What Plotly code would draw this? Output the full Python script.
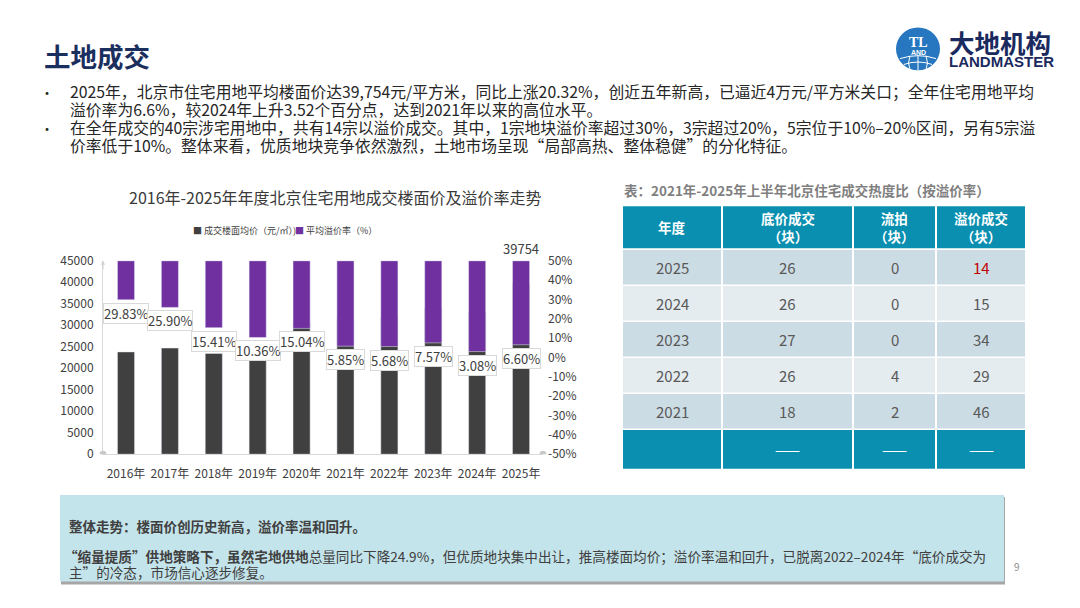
import plotly.graph_objects as go

W, H = 1080, 608
FONT = "Noto Sans CJK SC"

# ---------------- data ----------------
years = ["2016年", "2017年", "2018年", "2019年", "2020年",
         "2021年", "2022年", "2023年", "2024年", "2025年"]
price = [23800, 24700, 23450, 21950, 30500, 31500, 31800, 34000, 33040, 39754]
rate = [0.2983, 0.2590, 0.1541, 0.1036, 0.1504, 0.0585, 0.0568, 0.0757, 0.0308, 0.0660]

price_ticks = [0, 5000, 10000, 15000, 20000, 25000, 30000, 35000, 40000, 45000]
rate_ticks = [-0.5, -0.4, -0.3, -0.2, -0.1, 0, 0.1, 0.2, 0.3, 0.4, 0.5]
rate_tick_labels = ["-50%", "-40%", "-30%", "-20%", "-10%", "0%",
                    "10%", "20%", "30%", "40%", "50%"]

tbl_header = ["年度", "底价成交<br>（块）", "流拍<br>（块）", "溢价成交<br>（块）"]
tbl_year = ["2025", "2024", "2023", "2022", "2021"]
tbl_floor = [26, 26, 27, 26, 18]
tbl_fail = [0, 0, 0, 4, 2]
tbl_premium = [14, 15, 34, 29, 46]
tbl_footer = ["", "——", "——", "——"]

chart_title = "2016年-2025年年度北京住宅用地成交楼面价及溢价率走势"
legend_names = ["成交楼面均价（元/㎡）)", "平均溢价率（%）"]
table_title = "表：2021年-2025年上半年北京住宅成交热度比（按溢价率）"

# ---------------- helpers ----------------
def px(x):
    return x / W


def py(y):
    return 1 - y / H


GRAY = "#404040"
PURPLE = "#7030A0"
TEAL = "#0A8FB0"

fig = go.Figure()

fig.add_trace(go.Bar(x=years, y=price, marker_color=GRAY, width=0.39,
                     yaxis="y", name=legend_names[0], showlegend=False,
                     hoverinfo="skip"))
fig.add_trace(go.Bar(x=years, y=[r - 0.5 for r in rate], base=0.5,
                     marker_color=PURPLE, width=0.39, yaxis="y2",
                     name=legend_names[1], showlegend=False, hoverinfo="skip"))

ann = []
shapes = []


def text_ann(x, y, text, size, color, anchor="left", family=FONT, **kw):
    d = dict(x=px(x), y=py(y), xref="paper", yref="paper", xanchor=anchor,
             yanchor="middle", showarrow=False, text=text,
             font=dict(family=family, size=size, color=color))
    d.update(kw)
    ann.append(d)


def rect(x0, y0, x1, y1, color, layer="below"):
    shapes.append(dict(type="rect", xref="paper", yref="paper", x0=px(x0), x1=px(x1),
                       y0=py(y1), y1=py(y0), fillcolor=color, line=dict(width=0),
                       layer=layer))


# ---------------- table (built from the arrays) ----------------
col_edges = [622, 722, 853, 936, 1026]
tbl_top, head_h, gap, row_h, foot_h = 202, 43, 2, 35.5, 40
row_dark, row_light = "#CCDCE4", "#E4ECEF"
cell_col = "#595959"

for j, h in enumerate(tbl_header):
    x0, x1 = col_edges[j] + 1, col_edges[j + 1] - 1
    rect(x0, tbl_top, x1, tbl_top + head_h, TEAL)
    text_ann((x0 + x1) / 2, tbl_top + head_h / 2, f"<b>{h}</b>", 13.5, "white", "center")
body = list(zip(tbl_year, tbl_floor, tbl_fail, tbl_premium))
y_cur = tbl_top + head_h + gap
for i, row in enumerate(body):
    fill = row_dark if i % 2 == 0 else row_light
    for j, v in enumerate(row):
        x0, x1 = col_edges[j] + 1, col_edges[j + 1] - 1
        rect(x0, y_cur, x1, y_cur + row_h, fill)
        color = "#C00000" if (i == 0 and j == 3) else cell_col
        text_ann((x0 + x1) / 2, y_cur + row_h / 2 + 0.5, str(v), 15, color, "center")
    y_cur += row_h + 1.5
for j, v in enumerate(tbl_footer):
    x0, x1 = col_edges[j] + 1, col_edges[j + 1] - 1
    rect(x0, y_cur, x1, y_cur + foot_h, TEAL)
    text_ann((x0 + x1) / 2, y_cur + foot_h / 2, v, 15, "white", "center")

# ---------------- texts ----------------
text_ann(42, 47, "<b>土地成交</b>", 26.5, "#1B2F5E")
text_ann(947, 32, "<b>大地机构</b>", 25.5, "#1B2A5E")
text_ann(947, 53, "<b>LANDMASTER</b>", 15, "#1B2A5E", family="Liberation Sans")
text_ann(918, 33, "<b>TL</b>", 14, "white", "center", family="Liberation Serif")
text_ann(918, 44, "<b>AND</b>", 7, "white", "center", family="Liberation Sans")

bullet_lines = [
    (84, "2025年，北京市住宅用地平均楼面价达39,754元/平方米，同比上涨20.32%，创近五年新高，已逼近4万元/平方米关口；全年住宅用地平均", True),
    (102, "溢价率为6.6%，较2024年上升3.52个百分点，达到2021年以来的高位水平。", False),
    (121, "在全年成交的40宗涉宅用地中，共有14宗以溢价成交。其中，1宗地块溢价率超过30%，3宗超过20%，5宗位于10%–20%区间，另有5宗溢", True),
    (139, "价率低于10%。整体来看，优质地块竞争依然激烈，土地市场呈现“局部高热、整体稳健”的分化特征。", False),
]
for yy, txt, bul in bullet_lines:
    text_ann(68, yy, txt, 15.8, "#262626")
    if bul:
        text_ann(47, yy, "•", 14, "#262626", "center")

text_ann(335, 192, chart_title, 16, "#3A3A3A", "center")
text_ann(191, 227, f"<span style='color:{GRAY}'>■</span> {legend_names[0]}", 9, "#404040")
text_ann(293, 227, f"<span style='color:{PURPLE}'>■</span> {legend_names[1]}", 9, "#404040")

for yr, r in zip(years, rate):
    ann.append(dict(x=yr, y=r, xref="x", yref="y2", xanchor="center", yanchor="top",
                    yshift=-3, showarrow=False, text=f"{r * 100:.2f}%",
                    bgcolor="white", bordercolor="#D9D9D9", borderwidth=1, borderpad=0,
                    font=dict(family=FONT, size=13, color="#404040")))
ann.append(dict(x=years[-1], y=price_ticks[-1], xref="x", yref="y", xanchor="center",
                yanchor="bottom", yshift=1, showarrow=False, text=str(price[-1]),
                font=dict(family=FONT, size=13, color="#404040")))
ann.append(dict(x=0, y=price_ticks[-1], xref="x domain", yref="y", ax=0, ay=10,
                showarrow=True, arrowhead=2, arrowsize=0.8, arrowwidth=1,
                arrowcolor="#D0D0D0", text=""))

text_ann(622, 185, f"<b>{table_title}</b>", 13.5, "#7F7F7F")

text_ann(67, 531, "<b>整体走势：楼面价创历史新高，溢价率温和回升。</b>", 13.5, "#404040")
text_ann(62, 562, "<b>“缩量提质”供地策略下，虽然宅地供地</b>总量同比下降24.9%，但优质地块集中出让，推高楼面均价；溢价率温和回升，已脱离2022–2024年“底价成交为",
         13.6, "#404040")
text_ann(67, 578, "主”的冷态，市场信心逐步修复。", 13.6, "#404040")
text_ann(1017, 573, "9", 10, "#8C8C8C", "center")

# ---------------- shapes ----------------
rect(61, 501, 1005, 591, "#A6A6A6")
rect(60, 499, 1004, 588, "#C4E4EB")
shapes += [
    dict(type="circle", xref="paper", yref="paper", x0=px(896), x1=px(940),
         y0=py(62), y1=py(18), fillcolor="#2677C0", line=dict(width=0)),
    dict(type="path", xref="paper", yref="paper",
         path=f"M {px(900)},{py(50)} Q {px(918)},{py(44)} {px(936)},{py(50)}",
         line=dict(color="white", width=1)),
    dict(type="path", xref="paper", yref="paper",
         path=f"M {px(904)},{py(56)} Q {px(918)},{py(51)} {px(932)},{py(56)}",
         line=dict(color="white", width=1)),
    dict(type="path", xref="paper", yref="paper",
         path=f"M {px(918)},{py(47)} L {px(918)},{py(62)}",
         line=dict(color="white", width=1)),
    dict(type="path", xref="paper", yref="paper",
         path=f"M {px(910)},{py(47)} Q {px(907)},{py(55)} {px(910)},{py(61)}",
         line=dict(color="white", width=1)),
    dict(type="path", xref="paper", yref="paper",
         path=f"M {px(926)},{py(47)} Q {px(929)},{py(55)} {px(926)},{py(61)}",
         line=dict(color="white", width=1)),
    dict(type="circle", xref="x domain", yref="y", xsizemode="pixel", ysizemode="pixel",
         xanchor=0, yanchor=0, x0=-3.5, x1=3.5, y0=-3.5, y1=3.5,
         fillcolor="#C8C8C8", line=dict(width=0)),
    dict(type="circle", xref="x domain", yref="y", xsizemode="pixel", ysizemode="pixel",
         xanchor=1, yanchor=0, x0=-3.5, x1=3.5, y0=-3.5, y1=3.5,
         fillcolor="#C8C8C8", line=dict(width=0)),
]

fig.update_layout(
    width=W, height=H, margin=dict(l=0, r=0, t=0, b=0),
    paper_bgcolor="white", plot_bgcolor="white",
    barmode="overlay", showlegend=False,
    font=dict(family=FONT, color="#404040"),
    xaxis=dict(domain=[px(103), px(543)], type="category", showline=True,
               linecolor="#D9D9D9", linewidth=1, showgrid=False, ticks="",
               tickfont=dict(family=FONT, size=12, color="#404040"),
               ticklabelstandoff=8),
    yaxis=dict(domain=[py(457), py(258)], range=[0, 45000], tickvals=price_ticks,
               tickformat="d", showline=True, linecolor="#D9D9D9", linewidth=1,
               showgrid=False, zeroline=False, ticks="",
               tickfont=dict(family=FONT, size=12, color="#404040"),
               ticklabelstandoff=6),
    yaxis2=dict(overlaying="y", side="right", range=[-0.5, 0.5], tickvals=rate_ticks,
                ticktext=rate_tick_labels, showline=False, showgrid=False,
                zeroline=False, ticks="",
                tickfont=dict(family=FONT, size=12, color="#404040"),
                ticklabelstandoff=4),
    annotations=ann, shapes=shapes,
)

fig.write_html("out.html")
